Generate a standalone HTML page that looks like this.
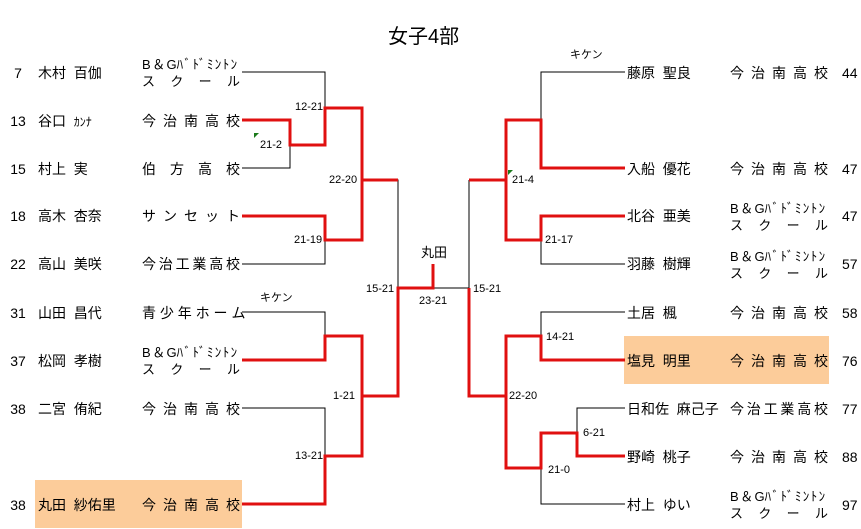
<!DOCTYPE html>
<html><head><meta charset="utf-8"><style>
body{margin:0;background:#fff;}
#c{position:relative;width:861px;height:529px;overflow:hidden;font-family:"Liberation Sans","Noto Sans CJK JP",sans-serif;font-size:14px;color:#000;}
.t{position:absolute;line-height:16px;white-space:nowrap;}
.n{position:absolute;width:30px;text-align:center;line-height:16px;}
.s{position:absolute;width:98px;line-height:16px;text-align:justify;text-align-last:justify;white-space:nowrap;}
.s2{position:absolute;width:98px;line-height:17px;font-size:13px;}
.s2 div{text-align:justify;text-align-last:justify;}
.sc{position:absolute;font-size:11px;line-height:12px;white-space:nowrap;}
.hl{position:absolute;background:#fccc9a;}
</style></head><body><div id="c">
<div class="hl" style="left:35px;top:480px;width:207px;height:48px"></div>
<div class="hl" style="left:624px;top:336px;width:205px;height:48px"></div>
<div class="t" style="left:388px;top:24px;font-size:20px;line-height:26px">女子4部</div>

<svg width="861" height="529" style="position:absolute;left:0;top:0">
<g stroke="#000" stroke-width="1" fill="none">
<polyline points="242,72 325,72 325,108"/>
<polyline points="242,168 290,168 290,145"/>
<polyline points="362,180 362,240"/>
<polyline points="242,264 325,264 325,240"/>
<polyline points="362,180 398,180 398,288"/>
<polyline points="242,312 325,312 325,336"/>
<polyline points="362,336 362,396"/>
<polyline points="242,408 325,408 325,456"/>
<polyline points="433,288 469,288 469,180"/>
<polyline points="625,72 541,72 541,120"/>
<polyline points="506,180 506,240"/>
<polyline points="625,264 541,264 541,240"/>
<polyline points="625,312 541,312 541,336"/>
<polyline points="506,396 506,468"/>
<polyline points="625,408 577,408 577,433"/>
<polyline points="541,468 541,504 625,504"/>
</g>
<g stroke="#e01010" stroke-width="3" fill="none" stroke-linejoin="miter">
<polyline points="242,120 290,120 290,145 325,145 325,108 362,108 362,180 398,180"/>
<polyline points="242,216 325,216 325,240 362,240 362,180"/>
<polyline points="242,360 325,360 325,336 362,336 362,396 398,396 398,288 433,288 433,264"/>
<polyline points="242,504 325,504 325,456 362,456 362,396"/>
<polyline points="625,168 541,168 541,120 506,120 506,180 469,180"/>
<polyline points="625,216 541,216 541,240 506,240 506,180"/>
<polyline points="625,360 541,360 541,336 506,336 506,396 469,396 469,288"/>
<polyline points="625,456 577,456 577,433 541,433 541,468 506,468 506,396"/>
</g>
<polygon points="254,133 259,133 254,138" fill="#1a7a1a"/>
<polygon points="508,170 513,170 508,175" fill="#1a7a1a"/>
</svg>

<!-- left numbers -->
<div class="n" style="left:3px;top:65px">7</div>
<div class="n" style="left:3px;top:113px">13</div>
<div class="n" style="left:3px;top:161px">15</div>
<div class="n" style="left:3px;top:208px">18</div>
<div class="n" style="left:3px;top:256px">22</div>
<div class="n" style="left:3px;top:305px">31</div>
<div class="n" style="left:3px;top:353px">37</div>
<div class="n" style="left:3px;top:401px">38</div>
<div class="n" style="left:3px;top:497px">38</div>
<!-- left names -->
<div class="t" style="left:38px;top:65px">木村&nbsp;&nbsp;百伽</div>
<div class="t" style="left:38px;top:113px">谷口&nbsp;&nbsp;<span style="font-size:12px">ｶﾝﾅ</span></div>
<div class="t" style="left:38px;top:161px">村上&nbsp;&nbsp;実</div>
<div class="t" style="left:38px;top:208px">高木&nbsp;&nbsp;杏奈</div>
<div class="t" style="left:38px;top:256px">高山&nbsp;&nbsp;美咲</div>
<div class="t" style="left:38px;top:305px">山田&nbsp;&nbsp;昌代</div>
<div class="t" style="left:38px;top:353px">松岡&nbsp;&nbsp;孝樹</div>
<div class="t" style="left:38px;top:401px">二宮&nbsp;&nbsp;侑紀</div>
<div class="t" style="left:38px;top:497px">丸田&nbsp;&nbsp;紗佑里</div>
<!-- left schools -->
<div class="s2" style="left:142px;top:56px"><div>B＆Gﾊﾞﾄﾞﾐﾝﾄﾝ</div><div>ス ク ー ル</div></div>
<div class="s" style="left:142px;top:113px">今 治 南 高 校</div>
<div class="s" style="left:142px;top:161px">伯 方 高 校</div>
<div class="s" style="left:142px;top:208px">サ ン セ ッ ト</div>
<div class="s" style="left:142px;top:256px">今治工業高校</div>
<div class="s" style="left:142px;top:305px">青 少 年 ホ ー ム</div>
<div class="s2" style="left:142px;top:344px"><div>B＆Gﾊﾞﾄﾞﾐﾝﾄﾝ</div><div>ス ク ー ル</div></div>
<div class="s" style="left:142px;top:401px">今 治 南 高 校</div>
<div class="s" style="left:142px;top:497px">今 治 南 高 校</div>

<!-- right names -->
<div class="t" style="left:627px;top:65px">藤原&nbsp;&nbsp;聖良</div>
<div class="t" style="left:627px;top:161px">入船&nbsp;&nbsp;優花</div>
<div class="t" style="left:627px;top:208px">北谷&nbsp;&nbsp;亜美</div>
<div class="t" style="left:627px;top:256px">羽藤&nbsp;&nbsp;樹輝</div>
<div class="t" style="left:627px;top:305px">土居&nbsp;&nbsp;楓</div>
<div class="t" style="left:627px;top:353px">塩見&nbsp;&nbsp;明里</div>
<div class="t" style="left:627px;top:401px">日和佐&nbsp;&nbsp;麻己子</div>
<div class="t" style="left:627px;top:449px">野崎&nbsp;&nbsp;桃子</div>
<div class="t" style="left:627px;top:497px">村上&nbsp;&nbsp;ゆい</div>
<!-- right schools -->
<div class="s" style="left:730px;top:65px">今 治 南 高 校</div>
<div class="s" style="left:730px;top:161px">今 治 南 高 校</div>
<div class="s2" style="left:730px;top:200px"><div>B＆Gﾊﾞﾄﾞﾐﾝﾄﾝ</div><div>ス ク ー ル</div></div>
<div class="s2" style="left:730px;top:248px"><div>B＆Gﾊﾞﾄﾞﾐﾝﾄﾝ</div><div>ス ク ー ル</div></div>
<div class="s" style="left:730px;top:305px">今 治 南 高 校</div>
<div class="s" style="left:730px;top:353px">今 治 南 高 校</div>
<div class="s" style="left:730px;top:401px">今治工業高校</div>
<div class="s" style="left:730px;top:449px">今 治 南 高 校</div>
<div class="s2" style="left:730px;top:488px"><div>B＆Gﾊﾞﾄﾞﾐﾝﾄﾝ</div><div>ス ク ー ル</div></div>
<!-- right numbers -->
<div class="t" style="left:842px;top:65px">44</div>
<div class="t" style="left:842px;top:161px">47</div>
<div class="t" style="left:842px;top:208px">47</div>
<div class="t" style="left:842px;top:256px">57</div>
<div class="t" style="left:842px;top:305px">58</div>
<div class="t" style="left:842px;top:353px">76</div>
<div class="t" style="left:842px;top:401px">77</div>
<div class="t" style="left:842px;top:449px">88</div>
<div class="t" style="left:842px;top:497px">97</div>

<!-- scores -->
<div class="sc" style="left:295px;top:101px">12-21</div>
<div class="sc" style="left:260px;top:139px">21-2</div>
<div class="sc" style="left:329px;top:174px">22-20</div>
<div class="sc" style="left:294px;top:234px">21-19</div>
<div class="sc" style="left:366px;top:283px">15-21</div>
<div class="sc" style="left:260px;top:292px">キケン</div>
<div class="sc" style="left:333px;top:390px">1-21</div>
<div class="sc" style="left:295px;top:450px">13-21</div>
<div class="t" style="left:421px;top:245px;font-size:13px">丸田</div>
<div class="sc" style="left:419px;top:295px">23-21</div>
<div class="sc" style="left:473px;top:283px">15-21</div>
<div class="sc" style="left:512px;top:174px">21-4</div>
<div class="sc" style="left:570px;top:49px">キケン</div>
<div class="sc" style="left:545px;top:234px">21-17</div>
<div class="sc" style="left:546px;top:331px">14-21</div>
<div class="sc" style="left:509px;top:390px">22-20</div>
<div class="sc" style="left:583px;top:427px">6-21</div>
<div class="sc" style="left:548px;top:464px">21-0</div>
</div></body></html>
